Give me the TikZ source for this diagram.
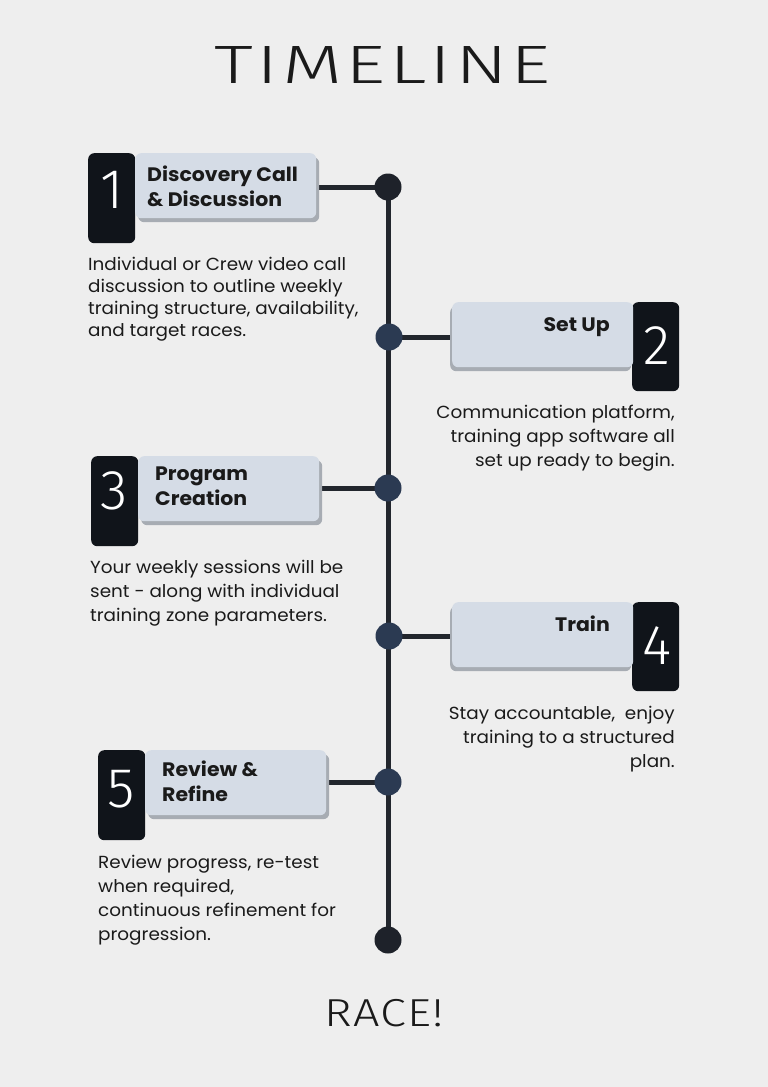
\documentclass[tikz,border=0pt]{standalone}
\usepackage{fontspec}
\setmainfont{Poppins}[FakeStretch=1.05]
\newfontfamily\thinfont{Fira Sans Light}
\newfontfamily\titlefont{Fira Sans Light}[FakeStretch=1.45, LetterSpace=6]
\newfontfamily\racefont{Fira Sans Light}[FakeStretch=1.2, LetterSpace=3]
\usetikzlibrary{shadows,backgrounds}
\definecolor{bg}{HTML}{EEEEEE}
\definecolor{boxlight}{HTML}{D5DCE6}
\definecolor{shadowgrey}{HTML}{A7ACB3}
\definecolor{tabdark}{HTML}{10141A}
\definecolor{linecol}{HTML}{22262D}
\definecolor{dotnavy}{HTML}{2B3A52}
\definecolor{dotdark}{HTML}{1E222A}
\definecolor{txt}{HTML}{1A1A1A}
\tikzset{
  lightbox/.style={fill=boxlight, rounded corners=6pt, minimum width=181pt, minimum height=65pt, inner sep=0pt},
  shadL/.style={drop shadow={shadow xshift=3pt, shadow yshift=-4pt, fill=shadowgrey, opacity=1}},
  shadR/.style={drop shadow={shadow xshift=-2pt, shadow yshift=-4pt, fill=shadowgrey, opacity=1}},
  tabbox/.style={fill=tabdark, rounded corners=6pt, minimum width=47pt, minimum height=90pt, inner sep=0pt},
  numtxt/.style={text=white, font=\thinfont\fontsize{56}{56}\selectfont, inner sep=0pt, anchor=base},
  lbl/.style={text=txt, font=\bfseries\fontsize{19.5}{25}\selectfont, inner sep=0pt, align=left},
  desc/.style={text=txt, font=\fontsize{17.5}{24}\selectfont, inner sep=0pt},
  conn/.style={draw=linecol, line width=5pt},
  dotA/.style={circle, fill=dotdark, minimum size=27pt, inner sep=0pt},
  dotB/.style={circle, fill=dotnavy, minimum size=27pt, inner sep=0pt}
}
\begin{document}
\begin{tikzpicture}[x=1pt,y=-1pt]
\useasboundingbox (0,0) rectangle (768,1087);
% title
\node[text=txt, font=\titlefont\fontsize{54}{54}\selectfont, inner sep=0pt, anchor=base] (title) at (383,83) {TIMELINE};
% dots
\node[dotA] (d1) at (388,187) {};
\node[dotB] (d2) at (389,337) {};
\node[dotB] (d3) at (388,488) {};
\node[dotB] (d4) at (389,636) {};
\node[dotB] (d5) at (388,782) {};
\node[dotA] (d6) at (388,940) {};
% box 1
\node[tabbox, anchor=north west] (t1) at (88,153) {};
\node[lightbox, shadL, anchor=north west] (b1) at (135,153) {};
\node[numtxt] (n1) at (112,208) {1};
\node[lbl, anchor=north west] (l1) at (147,166) {Discovery Call\\\& Discussion};
\node[desc, align=left, anchor=north west, font=\fontsize{17.5}{22}\selectfont] (x1) at (88,257) {Individual or Crew video call\\discussion to outline weekly\\training structure, availability,\\and target races.};
% box 2
\node[tabbox, anchor=north west, minimum height=89pt] (t2) at (632,302) {};
\node[lightbox, shadR, anchor=north west] (b2) at (452,302) {};
\node[numtxt] (n2) at (657,364) {2};
\node[lbl, anchor=base east] (l2) at (610,331) {Set Up};
\node[desc, align=right, anchor=north east] (x2) at (675,405) {Communication platform,\\training app software all\\set up ready to begin.};
% box 3
\node[tabbox, anchor=north west] (t3) at (91,456) {};
\node[lightbox, shadL, anchor=north west] (b3) at (138,456) {};
\node[numtxt] (n3) at (114,509) {3};
\node[lbl, anchor=north west] (l3) at (155,467) {Program\\Creation};
\node[desc, align=left, anchor=north west] (x3) at (90,560) {Your weekly sessions will be\\sent - along with individual\\training zone parameters.};
% box 4
\node[tabbox, anchor=north west, minimum height=89pt] (t4) at (632,602) {};
\node[lightbox, shadR, anchor=north west] (b4) at (452,602) {};
\node[numtxt] (n4) at (657,664) {4};
\node[lbl, anchor=base east] (l4) at (610,631) {Train};
\node[desc, align=right, anchor=north east] (x4) at (675,706) {Stay accountable,\ \ enjoy\\training to a structured\\plan.};
% box 5
\node[tabbox, anchor=north west] (t5) at (98,750) {};
\node[lightbox, shadL, anchor=north west] (b5) at (145,750) {};
\node[numtxt] (n5) at (121,807) {5};
\node[lbl, anchor=north west] (l5) at (162,761) {Review \&\\Refine};
\node[desc, align=left, anchor=north west] (x5) at (98,855) {Review progress, re-test\\when required,\\continuous refinement for\\progression.};
% race
\node[text=txt, font=\racefont\fontsize{39}{39}\selectfont, inner sep=0pt, anchor=base] (race) at (384,1026) {RACE!};
% connectors on background
\begin{scope}[on background layer]
\fill[bg] (0,0) rectangle (768,1087);
\draw[conn] (d1.center) -- (d6.center);
\draw[conn] (d1.center) -- (d1 -| b1.east);
\draw[conn] (d2.center) -- (d2 -| b2.west);
\draw[conn] (d3.center) -- (d3 -| b3.east);
\draw[conn] (d4.center) -- (d4 -| b4.west);
\draw[conn] (d5.center) -- (d5 -| b5.east);
\end{scope}
\end{tikzpicture}
\end{document}
